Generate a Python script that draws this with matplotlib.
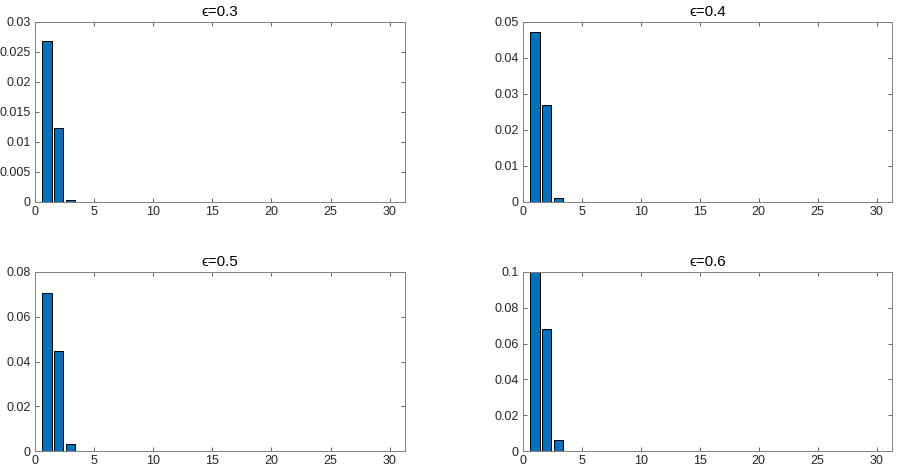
import matplotlib
matplotlib.use("Agg")
import matplotlib.pyplot as plt
import numpy as np

plt.rcParams['font.family'] = ['Liberation Sans', 'DejaVu Sans']

positions = list(range(1, 31))
zeros_tail = [0.0] * 27
vals_03 = [0.0269, 0.0124, 0.0003] + zeros_tail
vals_04 = [0.0473, 0.0270, 0.0012] + zeros_tail
vals_05 = [0.0708, 0.0447, 0.0031] + zeros_tail
vals_06 = [0.1000, 0.0683, 0.0063] + zeros_tail

titles = ['\u03f5=0.3', '\u03f5=0.4', '\u03f5=0.5', '\u03f5=0.6']
series = [vals_03, vals_04, vals_05, vals_06]
ylims = [0.03, 0.05, 0.08, 0.1]
yticks = [
    [0, 0.005, 0.01, 0.015, 0.02, 0.025, 0.03],
    [0, 0.01, 0.02, 0.03, 0.04, 0.05],
    [0, 0.02, 0.04, 0.06, 0.08],
    [0, 0.02, 0.04, 0.06, 0.08, 0.1],
]
ytick_labels = [
    ['0', '0.005', '0.01', '0.015', '0.02', '0.025', '0.03'],
    ['0', '0.01', '0.02', '0.03', '0.04', '0.05'],
    ['0', '0.02', '0.04', '0.06', '0.08'],
    ['0', '0.02', '0.04', '0.06', '0.08', '0.1'],
]
xticks = [0, 5, 10, 15, 20, 25, 30]

W, H = 897, 471
fig = plt.figure(figsize=(W / 100, H / 100), dpi=100)

rects = [
    (35, 22, 405, 202),
    (523, 22, 892, 202),
    (35, 272, 405, 451),
    (523, 272, 892, 451),
]
axcol = '#262626'
for i, (x0, y0, x1, y1) in enumerate(rects):
    ax = fig.add_axes([x0 / W, 1 - y1 / H, (x1 - x0) / W, (y1 - y0) / H])
    ax.bar(positions, series[i], width=0.8, color='#0072BD', edgecolor='#000000',
           linewidth=0.7, zorder=2)
    ax.set_xlim(0, 31.3)
    ax.set_ylim(0, ylims[i])
    ax.set_xticks(xticks)
    ax.set_xticklabels([str(t) for t in xticks])
    ax.set_yticks(yticks[i])
    ax.set_yticklabels(ytick_labels[i])
    ax.tick_params(direction='in', top=True, right=True, length=3, width=0.5,
                   colors=axcol, labelsize=9, pad=3)
    for sp in ax.spines.values():
        sp.set_color('#808080')
        sp.set_linewidth(0.7)
    ax.set_title(titles[i], fontsize=11, color='#000000', pad=4)

fig.savefig('out.png', dpi=100)
